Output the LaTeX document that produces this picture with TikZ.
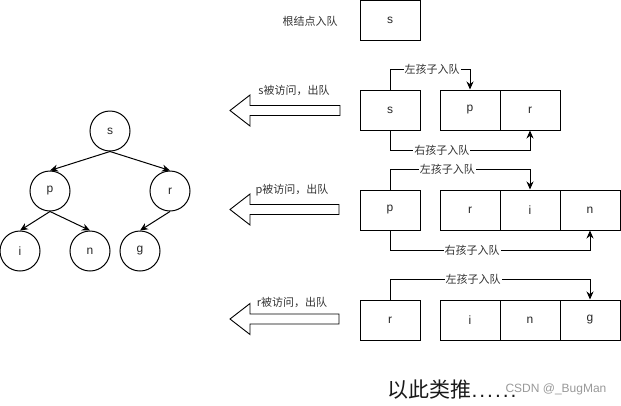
\documentclass[tikz,border=0pt]{standalone}
\usepackage{fontspec}
\setmainfont{Liberation Sans}
\newfontfamily\cjk{Noto Sans CJK SC}
\usetikzlibrary{arrows.meta}
\begin{document}
\begin{tikzpicture}[x=1pt,y=-1pt,line width=1pt,
 tnode/.style={circle,draw,minimum size=40pt,inner sep=0pt,text=black!85,font=\fontsize{12}{14}\selectfont},
 qbox/.style={draw,minimum width=60pt,minimum height=40pt,inner sep=0pt,text=black!85,font=\fontsize{12}{14}\selectfont},
 tedge/.style={-{Stealth[length=8pt,width=7pt]}},
 qarr/.style={-{Stealth[length=8pt,width=7pt]}},
 lbl/.style={fill=white,inner sep=1pt,text=black!80,font=\cjk\fontsize{11}{13}\selectfont},
 side/.style={inner sep=0pt,text=black!80,font=\cjk\fontsize{11}{13}\selectfont},
 bigarrow/.style={draw,fill=white,line width=0.9pt}]
\useasboundingbox (0,0) rectangle (621,405);

% tree
\node[tnode] (ts) at (110,131) {s};
\node[tnode] (tp) at (50,191) {p};
\node[tnode] (tr) at (170,191) {r};
\node[tnode] (ti) at (20,251) {i};
\node[tnode] (tn) at (90,251) {n};
\node[tnode] (tg) at (140,251) {g};
\draw[tedge] (ts.south) -- (tp.north);
\draw[tedge] (ts.south) -- (tr.north);
\draw[tedge] (tp.south) -- (ti.north);
\draw[tedge] (tp.south) -- (tn.north);
\draw[tedge] (tr.south) -- (tg.north);

% row 0
\node[side] (l0) at (310,21) {根结点入队};
\node[qbox] (s0) at (390,20.5) {s};

% row 1
\node[side] (l1) at (294,90) {s被访问，出队};
\draw[bigarrow] (230,110.5) -- (250,95) -- (250,105.5) -- (340,105.5) -- (340,115.5) -- (250,115.5) -- (250,126) -- cycle;
\node[qbox] (s1) at (390,110) {s};
\node[qbox] (p1) at (470,110) {p};
\node[qbox] (r1) at (530,110) {r};
\draw[qarr] (s1.north) -- ++(0,-20) -| node[lbl,pos=0.2625] {左孩子入队} (p1.north);
\draw[qarr] (s1.south) -- ++(0,20) -| node[lbl,pos=0.185] {右孩子入队} (r1.south);

% row 2
\node[side] (l2) at (292,190) {p被访问，出队};
\draw[bigarrow] (230,209.5) -- (250,194) -- (250,204.5) -- (339,204.5) -- (339,214.5) -- (250,214.5) -- (250,225) -- cycle;
\node[qbox] (p2) at (390,210) {p};
\node[qbox] (r2) at (470,210) {r};
\node[qbox] (i2) at (530,210) {i};
\node[qbox] (n2) at (590,210) {n};
\draw[qarr] (p2.north) -- ++(0,-20) -| node[lbl,pos=0.205] {左孩子入队} (i2.north);
\draw[qarr] (p2.south) -- ++(0,20) -| node[lbl,pos=0.205] {右孩子入队} (n2.south);

% row 3
\node[side] (l3) at (292,302) {r被访问，出队};
\draw[bigarrow] (230,319) -- (250,303.5) -- (250,314) -- (339,314) -- (339,324) -- (250,324) -- (250,334.5) -- cycle;
\node[qbox] (r3) at (390,320) {r};
\node[qbox] (i3) at (470,320) {i};
\node[qbox] (n3) at (530,320) {n};
\node[qbox] (g3) at (590,320) {g};
\draw[qarr] (r3.north) -- ++(0,-20) -| node[lbl,pos=0.2075] {左孩子入队} (g3.north);

% footer
\node[anchor=west,inner sep=0pt,text=black!90] (etc) at (387,390) {{\cjk\fontsize{21}{24}\selectfont 以此类推}{\fontsize{21}{24}\selectfont .\kern2pt.\kern2pt.\kern2pt.\kern2pt.\kern2pt.}};
\node[anchor=west,inner sep=0pt,text=black!40,font=\fontsize{12}{14}\selectfont] (wm) at (505,389) {CSDN @\_BugMan};
\end{tikzpicture}
\end{document}
